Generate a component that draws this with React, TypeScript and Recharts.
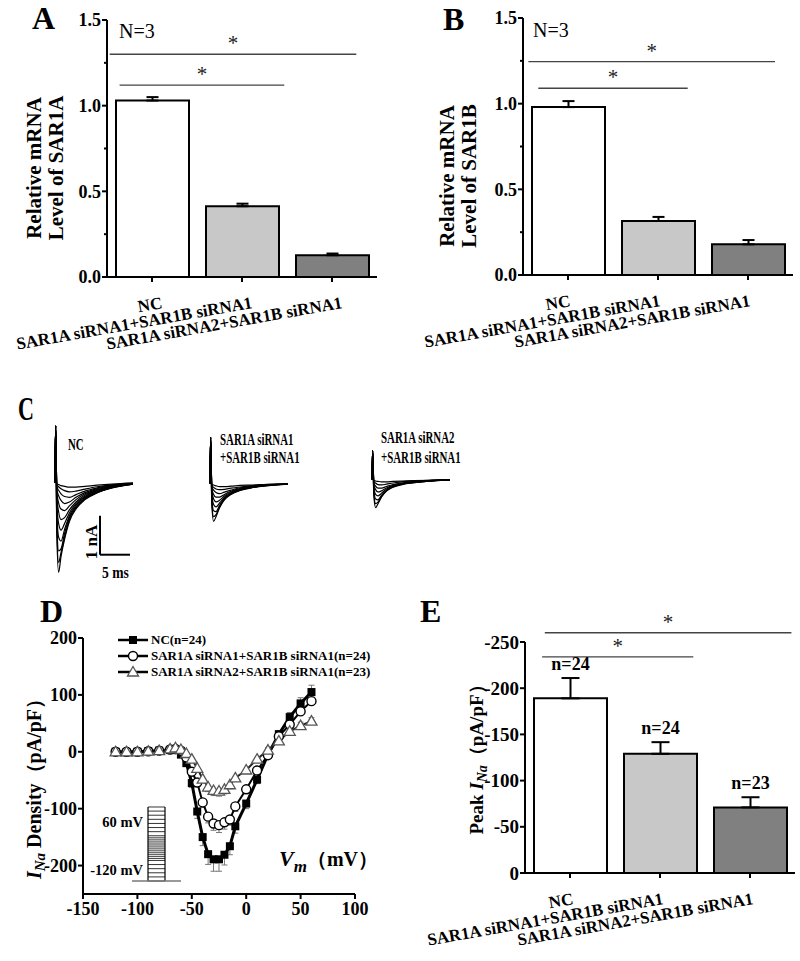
import React from "react";
import {
  Bar,
  BarChart,
  Cell,
  ErrorBar,
  LabelList,
  Legend,
  Line,
  LineChart,
  ReferenceLine,
  XAxis,
  YAxis
} from "recharts";

const FONT = '"Liberation Serif", "Times New Roman", serif';

// groups shared by panels A, B and E
const GROUPS = ["NC", "SAR1A siRNA1+SAR1B siRNA1", "SAR1A siRNA2+SAR1B siRNA1"];
const GROUP_X = [0.5, 1.5, 2.5];

// A: relative mRNA level of SAR1A
const SAR1A_MEAN = [1.03, 0.413, 0.127];
const SAR1A_SEM = [0.02, 0.015, 0.01];
// B: relative mRNA level of SAR1B
const SAR1B_MEAN = [0.98, 0.315, 0.179];
const SAR1B_SEM = [0.035, 0.024, 0.025];
// E: peak INa (pA/pF)
const PEAK_MEAN = [-189, -129, -71];
const PEAK_SEM = [22, 12.6, 11];
const PEAK_N = ["n=24", "n=24", "n=23"];

const MRNA_TICKS = [0, 0.25, 0.5, 0.75, 1, 1.25, 1.5];
const PEAK_TICKS = [-250, -200, -150, -100, -50, 0];

// D: I-V relation
const VOLTAGES = [-120, -110, -100, -90, -80, -70, -65, -60, -55, -50, -45, -40, -35, -30, -25, -20, -15, -10, 0, 10, 20, 30, 40, 50, 60];
const NC_IV = [0, -1, 0, 1, 2, 3, 3, -5, -20, -55, -105, -150, -180, -189, -189, -181, -166, -131, -91, -49, -5, 31, 61, 85, 105];
const NC_SEM = [2, 2, 2, 2, 2, 2, 2, 3, 5, 8, 12, 15, 18, 21, 21, 18, 15, 12, 9, 7, 5, 6, 8, 10, 12];
const SI1_IV = [0, 0, 0, 1, 2, 4, 5, 2, -10, -35, -54, -89, -114, -126, -129, -124, -119, -96, -66, -33, -6, 27, 48, 71, 89];
const SI1_SEM = [2, 2, 2, 2, 2, 2, 2, 2, 3, 5, 7, 9, 11, 12, 13, 12, 10, 9, 7, 5, 5, 6, 7, 8, 9];
const SI2_IV = [0, 0, 0, 1, 2, 5, 7, 4, -3, -13, -29, -48, -62, -68, -69, -66, -58, -46, -32, -13, 3, 19, 36, 46, 54];
const SI2_SEM = [2, 2, 2, 2, 2, 2, 2, 2, 2, 3, 5, 6, 8, 9, 9, 8, 7, 6, 5, 4, 4, 5, 5, 6, 6];
const IV_X_TICKS = [-150, -100, -50, 0, 50, 100];
const IV_Y_TICKS = [-200, -100, 0, 100, 200];

// C: current traces (nA) sampled at these times (ms)
const TRACE_T = [0, 0.1, 0.3, 0.6, 1.0, 1.6, 2.4, 3.5, 5, 7, 9.5, 13];
const TRACES_NC = [
  [0, 1.45, -1.3, -2.3, -1.9, -1.45, -1.0, -0.68, -0.44, -0.27, -0.14, -0.04],
  [0, 1.45, -1.1, -2.05, -1.8, -1.4, -0.95, -0.65, -0.42, -0.26, -0.13, -0.04],
  [0, 1.45, -0.9, -1.75, -1.7, -1.3, -0.9, -0.62, -0.4, -0.25, -0.13, -0.04],
  [0, 1.45, -0.7, -1.4, -1.5, -1.2, -0.85, -0.58, -0.38, -0.23, -0.12, -0.04],
  [0, 1.45, -0.5, -1.05, -1.22, -1.05, -0.78, -0.54, -0.35, -0.21, -0.11, -0.03],
  [0, 1.45, -0.35, -0.75, -0.95, -0.9, -0.7, -0.5, -0.32, -0.2, -0.1, -0.03],
  [0, 1.45, -0.25, -0.52, -0.68, -0.72, -0.6, -0.44, -0.29, -0.18, -0.09, -0.03],
  [0, 1.45, -0.17, -0.34, -0.46, -0.54, -0.5, -0.38, -0.26, -0.16, -0.08, -0.03],
  [0, 1.45, -0.1, -0.2, -0.29, -0.36, -0.38, -0.31, -0.22, -0.14, -0.07, -0.02],
  [0, 1.45, -0.06, -0.11, -0.16, -0.21, -0.24, -0.22, -0.17, -0.11, -0.06, -0.02],
  [0, 1.45, -0.03, -0.05, -0.08, -0.1, -0.12, -0.12, -0.1, -0.07, -0.04, -0.01]
];
const TRACES_SI1 = [
  [0, 1.18, -0.55, -0.97, -0.85, -0.62, -0.42, -0.28, -0.18, -0.11, -0.06, -0.02],
  [0, 1.18, -0.45, -0.85, -0.8, -0.6, -0.41, -0.27, -0.17, -0.1, -0.05, -0.02],
  [0, 1.18, -0.35, -0.7, -0.72, -0.56, -0.39, -0.26, -0.17, -0.1, -0.05, -0.02],
  [0, 1.18, -0.26, -0.54, -0.6, -0.5, -0.36, -0.24, -0.16, -0.1, -0.05, -0.02],
  [0, 1.18, -0.19, -0.4, -0.47, -0.43, -0.32, -0.22, -0.15, -0.09, -0.05, -0.02],
  [0, 1.18, -0.13, -0.28, -0.35, -0.35, -0.28, -0.2, -0.13, -0.08, -0.04, -0.01],
  [0, 1.18, -0.08, -0.17, -0.23, -0.26, -0.22, -0.17, -0.11, -0.07, -0.04, -0.01],
  [0, 1.18, -0.05, -0.1, -0.14, -0.16, -0.15, -0.12, -0.09, -0.06, -0.03, -0.01],
  [0, 1.18, -0.02, -0.04, -0.06, -0.08, -0.08, -0.07, -0.05, -0.04, -0.02, -0.01]
];
const TRACES_SI2 = [
  [0, 0.74, -0.4, -0.72, -0.62, -0.45, -0.3, -0.2, -0.13, -0.08, -0.04, -0.01],
  [0, 0.74, -0.33, -0.62, -0.58, -0.43, -0.29, -0.19, -0.12, -0.08, -0.04, -0.01],
  [0, 0.74, -0.25, -0.5, -0.52, -0.4, -0.28, -0.18, -0.12, -0.07, -0.04, -0.01],
  [0, 0.74, -0.18, -0.38, -0.42, -0.35, -0.25, -0.17, -0.11, -0.07, -0.03, -0.01],
  [0, 0.74, -0.12, -0.26, -0.32, -0.29, -0.22, -0.15, -0.1, -0.06, -0.03, -0.01],
  [0, 0.74, -0.08, -0.17, -0.22, -0.22, -0.18, -0.13, -0.09, -0.05, -0.03, -0.01],
  [0, 0.74, -0.04, -0.09, -0.13, -0.14, -0.12, -0.09, -0.06, -0.04, -0.02, -0.01],
  [0, 0.74, -0.02, -0.04, -0.05, -0.06, -0.06, -0.05, -0.04, -0.03, -0.02, -0.01]
];

const FILLS = ["#ffffff", "#c8c8c8", "#808080"];
const AXIS = { stroke: "#000", strokeWidth: 2 };
const SIG_STROKE = "#444";

// ---------- ticks ----------
const makeCatTick = (dx: number) => (p: any) => {
  const { x, y, payload } = p;
  const i = GROUP_X.indexOf(payload.value);
  const ax = x + dx;
  const ay = y + 31;
  return (
    <g>
      <line x1={x} y1={y} x2={x} y2={y + 5} stroke="#000" strokeWidth={2} />
      <text
        x={ax}
        y={ay}
        textAnchor="end"
        transform={`rotate(-10 ${ax} ${ay})`}
        fontFamily={FONT}
        fontWeight="bold"
        fontSize={17}
        fill="#000"
      >
        {GROUPS[i]}
      </text>
    </g>
  );
};

const makeYTick =
  (isMajor: (v: number) => boolean, fmt: (v: number) => string, size: number) => (p: any) => {
    const { x, y, payload } = p;
    const v = payload.value;
    const major = isMajor(v);
    const len = major ? 5 : 3;
    return (
      <g>
        <line x1={x - len} y1={y} x2={x} y2={y} stroke="#000" strokeWidth={2} />
        {major && (
          <text x={x - len - 1} y={y} dy="0.35em" textAnchor="end" fontFamily={FONT} fontWeight="bold" fontSize={size} fill="#000">
            {fmt(v)}
          </text>
        )}
      </g>
    );
  };

const mrnaTick = makeYTick((v) => Math.abs(v * 2 - Math.round(v * 2)) < 1e-6, (v) => v.toFixed(1), 18);
const peakTick = makeYTick(() => true, (v) => String(v), 19);
const ivYTick = makeYTick(() => true, (v) => String(v), 18);

const ivXTick = (p: any) => {
  const { x, y, payload } = p;
  return (
    <g>
      <line x1={x} y1={y} x2={x} y2={y + 5} stroke="#000" strokeWidth={2} />
      <text x={x} y={y + 21} textAnchor="middle" fontFamily={FONT} fontWeight="bold" fontSize={18} fill="#000">
        {payload.value}
      </text>
    </g>
  );
};

// ---------- plain text helpers ----------
function Txt({ x, base, size, bold = true, italic = false, anchor = "start", sx = 1, children }: any) {
  const shift = anchor === "end" ? "-100%" : anchor === "middle" ? "-50%" : "0";
  const origin = anchor === "end" ? "right" : anchor === "middle" ? "center" : "left";
  return (
    <div
      style={{
        position: "absolute",
        left: x,
        top: base - 0.84 * size,
        fontFamily: FONT,
        fontSize: size,
        lineHeight: 1,
        fontWeight: bold ? "bold" : "normal",
        fontStyle: italic ? "italic" : "normal",
        whiteSpace: "nowrap",
        transform: `translateX(${shift}) scaleX(${sx})`,
        transformOrigin: origin
      }}
    >
      {children}
    </div>
  );
}

function RotLabel({ cx, cy, size, lineHeight = 1.05, children }: any) {
  return (
    <div
      style={{
        position: "absolute",
        left: cx,
        top: cy,
        transform: "translate(-50%, -50%) rotate(-90deg)",
        fontFamily: FONT,
        fontWeight: "bold",
        fontSize: size,
        lineHeight,
        textAlign: "center",
        whiteSpace: "nowrap"
      }}
    >
      {children}
    </div>
  );
}

// ---------- panels ----------
type Sig = { x1: number; x2: number; y: number };

function sigLines(sigs: Sig[]) {
  return sigs.map((s, k) => (
    <ReferenceLine
      key={k}
      segment={[
        { x: s.x1, y: s.y },
        { x: s.x2, y: s.y }
      ]}
      stroke={SIG_STROKE}
      strokeWidth={1.3}
      ifOverflow="visible"
      label={{ value: "*", position: "top", offset: 4, fontSize: 21, fontFamily: FONT, fill: "#222" }}
    />
  ));
}

function MrnaBars({ mean, sem, yAxisWidth, top, sigs, labelDx }: any) {
  const rows = GROUPS.map((g, i) => ({ x: GROUP_X[i], mean: mean[i], err: [0, sem[i]] }));
  return (
    <BarChart width={400} height={top + 257 + 76} data={rows} margin={{ top, right: 400 - yAxisWidth - 270, bottom: 0, left: 0 }}>
      <XAxis dataKey="x" type="number" domain={[0, 3]} ticks={GROUP_X} interval={0} tick={makeCatTick(labelDx)} tickLine={false} tickSize={0} tickMargin={0} height={76} axisLine={AXIS} />
      <YAxis type="number" domain={[0, 1.5]} ticks={MRNA_TICKS} interval={0} tick={mrnaTick} tickLine={false} tickSize={0} tickMargin={0} width={yAxisWidth} axisLine={AXIS} />
      <Bar dataKey="mean" barSize={73} stroke="#000" strokeWidth={2} isAnimationActive={false}>
        {rows.map((r, i) => (
          <Cell key={i} fill={FILLS[i]} />
        ))}
        <ErrorBar dataKey="err" direction="y" width={6} stroke="#000" strokeWidth={2} />
      </Bar>
      {sigLines(sigs)}
    </BarChart>
  );
}

function PeakBars() {
  const rows = GROUPS.map((g, i) => ({ x: GROUP_X[i], mean: PEAK_MEAN[i], err: [PEAK_SEM[i], 0], n: PEAK_N[i] }));
  return (
    <BarChart width={380} height={361} data={rows} margin={{ top: 42, right: 5, bottom: 0, left: 0 }}>
      <XAxis dataKey="x" type="number" domain={[0, 3]} ticks={GROUP_X} interval={0} tick={makeCatTick(4)} tickLine={false} tickSize={0} tickMargin={0} height={88} axisLine={AXIS} />
      <YAxis type="number" domain={[-250, 0]} reversed ticks={PEAK_TICKS} interval={0} tick={peakTick} tickLine={false} tickSize={0} tickMargin={0} width={105} axisLine={AXIS} />
      <Bar dataKey="mean" barSize={73} stroke="#000" strokeWidth={2} isAnimationActive={false}>
        {rows.map((r, i) => (
          <Cell key={i} fill={FILLS[i]} />
        ))}
        <ErrorBar dataKey="err" direction="y" width={9} stroke="#000" strokeWidth={2} />
        <LabelList
          dataKey="n"
          content={(p: any) => {
            const { x, y, width, height, value, index } = p;
            const h = Math.abs(height);
            const errPx = (h * PEAK_SEM[index]) / Math.abs(PEAK_MEAN[index]);
            const topY = Math.min(y, y + height) - errPx;
            return (
              <text x={x + width / 2} y={topY - 8} textAnchor="middle" fontFamily={FONT} fontWeight="bold" fontSize={18} fill="#000">
                {value}
              </text>
            );
          }}
        />
      </Bar>
      {sigLines([
        { x1: 0.22, x2: 2.96, y: -260 },
        { x1: 0.19, x2: 1.87, y: -234 }
      ])}
    </BarChart>
  );
}

const towardSign = (m: number, s: number) => (m < 0 ? [s, 0] : [0, s]);
const ivRows = VOLTAGES.map((v, i) => ({
  v,
  nc: NC_IV[i],
  ncErr: towardSign(NC_IV[i], NC_SEM[i]),
  si1: SI1_IV[i],
  si1Err: towardSign(SI1_IV[i], SI1_SEM[i]),
  si2: SI2_IV[i],
  si2Err: towardSign(SI2_IV[i], SI2_SEM[i])
}));

const squareDot = (p: any) => <rect key={`sq-${p.index}`} x={p.cx - 4} y={p.cy - 4} width={8} height={8} fill="#000" />;
const circleDot = (p: any) => <circle key={`ci-${p.index}`} cx={p.cx} cy={p.cy} r={4.5} fill="#fff" stroke="#000" strokeWidth={1.4} />;
const triDot = (p: any) => (
  <path key={`tr-${p.index}`} d={`M${p.cx},${p.cy - 5.5}L${p.cx + 5.5},${p.cy + 4}L${p.cx - 5.5},${p.cy + 4}Z`} fill="#fff" stroke="#555" strokeWidth={1.3} />
);

const legendMarker = (key: string) => {
  if (key === "nc") return <rect x={11} y={3} width={8} height={8} fill="#000" />;
  if (key === "si1") return <circle cx={15} cy={7} r={4.5} fill="#fff" stroke="#000" strokeWidth={1.4} />;
  return <path d="M15,1.5L20.5,11L9.5,11Z" fill="#fff" stroke="#555" strokeWidth={1.3} />;
};

const ivLegend = (props: any) => (
  <div style={{ fontFamily: FONT, fontWeight: "bold", fontSize: 13, lineHeight: "16px", color: "#000" }}>
    {(props.payload || []).map((e: any) => (
      <div key={e.value} style={{ display: "flex", alignItems: "center" }}>
        <svg width={30} height={14}>
          <line x1={0} y1={7} x2={30} y2={7} stroke="#000" strokeWidth={2.5} />
          {legendMarker(String(e.dataKey))}
        </svg>
        <span style={{ marginLeft: 3 }}>{e.value}</span>
      </div>
    ))}
  </div>
);

function IVCurve() {
  return (
    <LineChart width={420} height={330} data={ivRows} margin={{ top: 38, right: 65, bottom: 0, left: 0 }}>
      <XAxis dataKey="v" type="number" domain={[-150, 100]} ticks={IV_X_TICKS} interval={0} tick={ivXTick} tickLine={false} tickSize={0} tickMargin={0} height={36} axisLine={AXIS} />
      <YAxis type="number" domain={[-250, 200]} ticks={IV_Y_TICKS} interval={0} tick={ivYTick} tickLine={false} tickSize={0} tickMargin={0} width={83} axisLine={AXIS} />
      <Legend layout="vertical" align="center" verticalAlign="middle" wrapperStyle={{ left: 118, top: 32, width: 300 }} content={ivLegend} />
      <Line dataKey="nc" name="NC(n=24)" stroke="#000" strokeWidth={3} dot={squareDot} activeDot={false} isAnimationActive={false}>
        <ErrorBar dataKey="ncErr" direction="y" width={3} stroke="#777" strokeWidth={1} />
      </Line>
      <Line dataKey="si1" name="SAR1A siRNA1+SAR1B siRNA1(n=24)" stroke="#000" strokeWidth={2} dot={circleDot} activeDot={false} isAnimationActive={false}>
        <ErrorBar dataKey="si1Err" direction="y" width={3} stroke="#777" strokeWidth={1} />
      </Line>
      <Line dataKey="si2" name="SAR1A siRNA2+SAR1B siRNA1(n=23)" stroke="#222" strokeWidth={2} dot={triDot} activeDot={false} isAnimationActive={false}>
        <ErrorBar dataKey="si2Err" direction="y" width={3} stroke="#777" strokeWidth={1} />
      </Line>
    </LineChart>
  );
}

// voltage protocol inset of panel D
function Protocol() {
  const rows = VOLTAGES.map((v) => ({ x: 0, v }));
  return (
    <LineChart width={50} height={82} data={rows} margin={{ top: 0, right: 0, bottom: 0, left: 0 }}>
      <XAxis dataKey="x" type="number" domain={[0, 50]} hide />
      <YAxis dataKey="v" type="number" domain={[-129.7, 69.7]} hide />
      {VOLTAGES.map((v) => (
        <ReferenceLine key={v} segment={[{ x: 16, y: v }, { x: 33, y: v }]} stroke="#000" strokeWidth={0.8} />
      ))}
      <ReferenceLine segment={[{ x: 16, y: -120 }, { x: 16, y: 60 }]} stroke="#000" strokeWidth={1.2} />
      <ReferenceLine segment={[{ x: 33, y: -120 }, { x: 33, y: 60 }]} stroke="#000" strokeWidth={1.2} />
      <ReferenceLine segment={[{ x: 0, y: -120 }, { x: 49, y: -120 }]} stroke="#777" strokeWidth={1.5} />
    </LineChart>
  );
}

function TraceFamily({ traces, children }: any) {
  const rows = TRACE_T.map((t, j) => {
    const row: any = { t };
    traces.forEach((tr: number[], k: number) => {
      row[`s${k}`] = tr[j];
    });
    return row;
  });
  return (
    <LineChart width={90} height={164} data={rows} margin={{ top: 0, right: 0, bottom: 0, left: 0 }}>
      <XAxis dataKey="t" type="number" domain={[-1, 14]} hide />
      <YAxis type="number" domain={[-2.6, 1.6]} hide />
      {traces.map((tr: number[], k: number) => (
        <Line key={k} dataKey={`s${k}`} type="monotone" stroke="#000" strokeWidth={1.2} dot={false} activeDot={false} isAnimationActive={false} />
      ))}
      {children}
    </LineChart>
  );
}

const abs = (left: number, top: number): React.CSSProperties => ({ position: "absolute", left, top });

export default function App() {
  return (
    <div style={{ position: "absolute", left: 0, top: 0, width: 800, height: 961, background: "#fff", overflow: "hidden" }}>
      {/* A */}
      <div style={abs(0, 0)}>
        <MrnaBars
          mean={SAR1A_MEAN}
          sem={SAR1A_SEM}
          yAxisWidth={107}
          top={20}
          labelDx={11}
          sigs={[
            { x1: 0.03, x2: 2.77, y: 1.3 },
            { x1: 0.14, x2: 1.97, y: 1.12 }
          ]}
        />
      </div>
      {/* B */}
      <div style={abs(400, 0)}>
        <MrnaBars
          mean={SAR1B_MEAN}
          sem={SAR1B_SEM}
          yAxisWidth={123}
          top={18}
          labelDx={3}
          sigs={[
            { x1: 0.06, x2: 2.8, y: 1.245 },
            { x1: 0.17, x2: 1.83, y: 1.09 }
          ]}
        />
      </div>
      {/* C */}
      <div style={abs(49, 420)}>
        <TraceFamily traces={TRACES_NC}>
          <ReferenceLine segment={[{ x: 7.5, y: -0.85 }, { x: 7.5, y: -1.85 }]} stroke="#000" strokeWidth={2} />
          <ReferenceLine segment={[{ x: 7.5, y: -1.85 }, { x: 12.5, y: -1.85 }]} stroke="#000" strokeWidth={2} />
        </TraceFamily>
      </div>
      <div style={abs(204, 421)}>
        <TraceFamily traces={TRACES_SI1} />
      </div>
      <div style={abs(366, 417)}>
        <TraceFamily traces={TRACES_SI2} />
      </div>
      {/* D */}
      <div style={abs(0, 600)}>
        <IVCurve />
      </div>
      <div style={abs(132, 803)}>
        <Protocol />
      </div>
      {/* E */}
      <div style={abs(420, 600)}>
        <PeakBars />
      </div>

      {/* panel letters */}
      <Txt x={32} base={29} size={32}>A</Txt>
      <Txt x={443} base={30} size={32}>B</Txt>
      <Txt x={18} base={421} size={34} sx={0.65}>C</Txt>
      <Txt x={40} base={622} size={32}>D</Txt>
      <Txt x={420} base={622} size={32}>E</Txt>

      <Txt x={119} base={38} size={20} bold={false}>N=3</Txt>
      <Txt x={533} base={37} size={20} bold={false}>N=3</Txt>

      <RotLabel cx={45} cy={168} size={21}>
        Relative mRNA
        <br />
        Level of SAR1A
      </RotLabel>
      <RotLabel cx={458} cy={176} size={21}>
        Relative mRNA
        <br />
        Level of SAR1B
      </RotLabel>

      {/* C annotations */}
      <Txt x={68} base={450} size={17} sx={0.64}>NC</Txt>
      <Txt x={220} base={445} size={17} sx={0.64}>SAR1A siRNA1</Txt>
      <Txt x={220} base={463} size={17} sx={0.64}>+SAR1B siRNA1</Txt>
      <Txt x={381} base={443} size={17} sx={0.64}>SAR1A siRNA2</Txt>
      <Txt x={381} base={463} size={17} sx={0.64}>+SAR1B siRNA1</Txt>
      <RotLabel cx={92} cy={542} size={17}>1 nA</RotLabel>
      <Txt x={102} base={578} size={17} sx={0.8}>5 ms</Txt>

      {/* D annotations */}
      <Txt x={143} base={827} size={14.5} anchor="end">60 mV</Txt>
      <Txt x={143} base={875} size={14.5} anchor="end">-120 mV</Txt>
      <Txt x={279} base={866} size={22}>
        <i>V</i>
        <i style={{ fontSize: 17, position: "relative", top: 6 }}>m</i>
        <span style={{ fontSize: 20 }}>（mV）</span>
      </Txt>
      <RotLabel cx={34} cy={784} size={20}>
        <i>I</i>
        <i style={{ fontSize: 15, position: "relative", top: 4 }}>Na</i> Density（pA/pF）
      </RotLabel>

      {/* E annotation */}
      <RotLabel cx={477} cy={755} size={19}>
        Peak <i>I</i>
        <i style={{ fontSize: 14, position: "relative", top: 4 }}>Na</i>（pA/pF）
      </RotLabel>
    </div>
  );
}
